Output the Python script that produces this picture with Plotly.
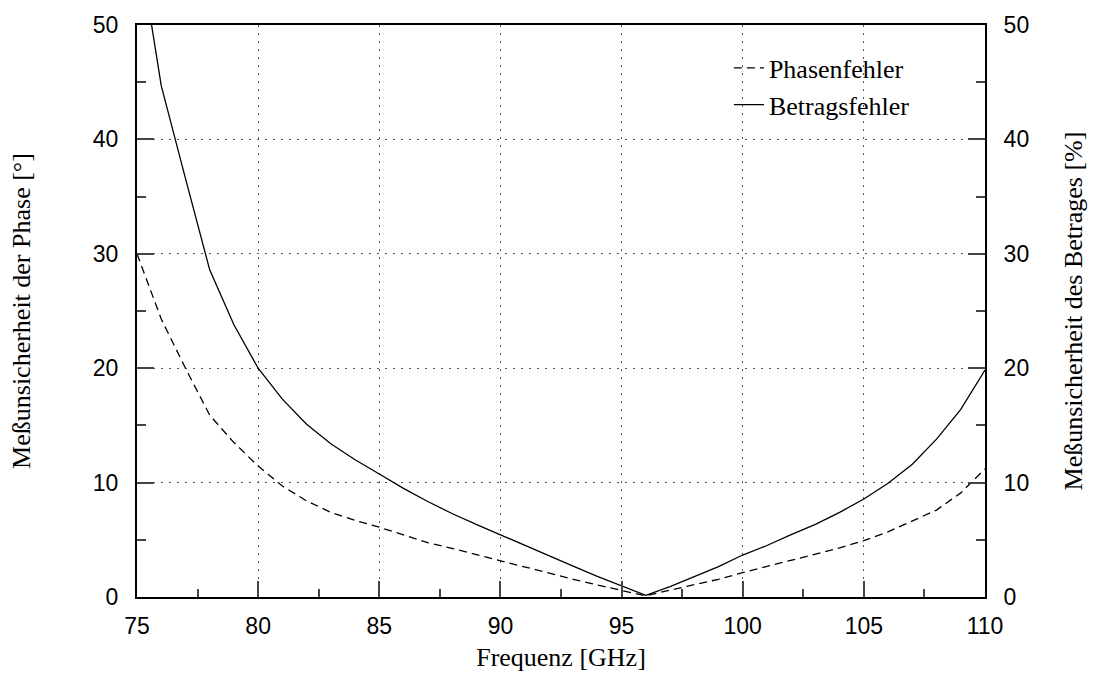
import plotly.graph_objects as go

freq = [75, 76, 77, 78, 79, 80, 81, 82, 83, 84, 85, 86, 87, 88, 89, 90, 91, 92,
        93, 94, 95, 96, 97, 98, 99, 100, 101, 102, 103, 104, 105, 106, 107, 108, 109, 110]
phase_err = [30.0, 24.3, 20.0, 15.9, 13.5, 11.45, 9.7, 8.4, 7.4, 6.7, 6.1, 5.4, 4.75, 4.25, 3.7,
             3.15, 2.6, 2.05, 1.55, 1.05, 0.55, 0.1, 0.6, 1.1, 1.55, 2.13, 2.65, 3.2, 3.75,
             4.3, 4.92, 5.7, 6.65, 7.6, 9.1, 11.2]
mag_err = [58.0, 44.7, 36.6, 28.6, 23.8, 20.0, 17.3, 15.1, 13.4, 12.0, 10.75, 9.5, 8.35, 7.3,
           6.35, 5.42, 4.5, 3.6, 2.7, 1.8, 0.96, 0.15, 0.9, 1.75, 2.65, 3.67, 4.5, 5.45,
           6.35, 7.4, 8.57, 9.94, 11.6, 13.8, 16.4, 19.84]

x_ticks = [75, 80, 85, 90, 95, 100, 105, 110]
y_ticks = [0, 10, 20, 30, 40, 50]

serif = "Liberation Serif"
sans = "Liberation Sans"
TS = 23   # tick label size
LS = 26   # title / legend size

fig = go.Figure()
fig.add_trace(go.Scatter(x=freq, y=phase_err, mode="lines", name="Phasenfehler",
                         line=dict(color="black", width=1.3, dash="8px,5px")))
fig.add_trace(go.Scatter(x=freq, y=mag_err, mode="lines", name="Betragsfehler", yaxis="y2",
                         line=dict(color="black", width=1.3)))

grid = dict(showgrid=True, gridcolor="#555555", gridwidth=1, griddash="2px,6px")

fig.update_layout(
    width=1095, height=688,
    margin=dict(l=137, r=107, t=25, b=91),
    plot_bgcolor="white", paper_bgcolor="white",
    showlegend=True,
    legend=dict(x=0.698, y=0.966, xanchor="left", yanchor="top",
                font=dict(family=serif, size=LS, color="black"),
                bgcolor="rgba(0,0,0,0)", tracegroupgap=0),
    xaxis=dict(range=[75, 110], tickvals=x_ticks, ticks="inside", ticklen=16, tickwidth=2,
               showline=True, linecolor="black", linewidth=2, mirror=True, zeroline=False,
               tickfont=dict(family=sans, size=TS, color="black"), ticklabelstandoff=7,
               minor=dict(ticks="inside", ticklen=8, tickwidth=2, dtick=2.5, tick0=75, showgrid=False),
               title=dict(text="Frequenz [GHz]", font=dict(family=serif, size=LS, color="black"),
                          standoff=10),
               **grid),
    yaxis=dict(range=[0, 50], tickvals=y_ticks, ticks="inside", ticklen=17, tickwidth=2,
               showline=True, linecolor="black", linewidth=2, mirror=True, zeroline=False,
               tickfont=dict(family=sans, size=TS, color="black"), ticklabelstandoff=12,
               minor=dict(ticks="inside", ticklen=9, tickwidth=2, dtick=5, tick0=0, showgrid=False),
               title=dict(text="Meßunsicherheit der Phase [°]",
                          font=dict(family=serif, size=LS, color="black"), standoff=55),
               **grid),
    yaxis2=dict(range=[0, 50], tickvals=y_ticks, overlaying="y", side="right",
                ticks="inside", ticklen=17, tickwidth=2, showgrid=False, zeroline=False,
                showline=True, linecolor="black", linewidth=2,
                tickfont=dict(family=sans, size=TS, color="black"), ticklabelstandoff=12,
                minor=dict(ticks="inside", ticklen=9, tickwidth=2, dtick=5, tick0=0, showgrid=False),
                title=dict(text="Meßunsicherheit des Betrages [%]",
                           font=dict(family=serif, size=LS, color="black"), standoff=36)),
)

fig.write_html("out.html")
